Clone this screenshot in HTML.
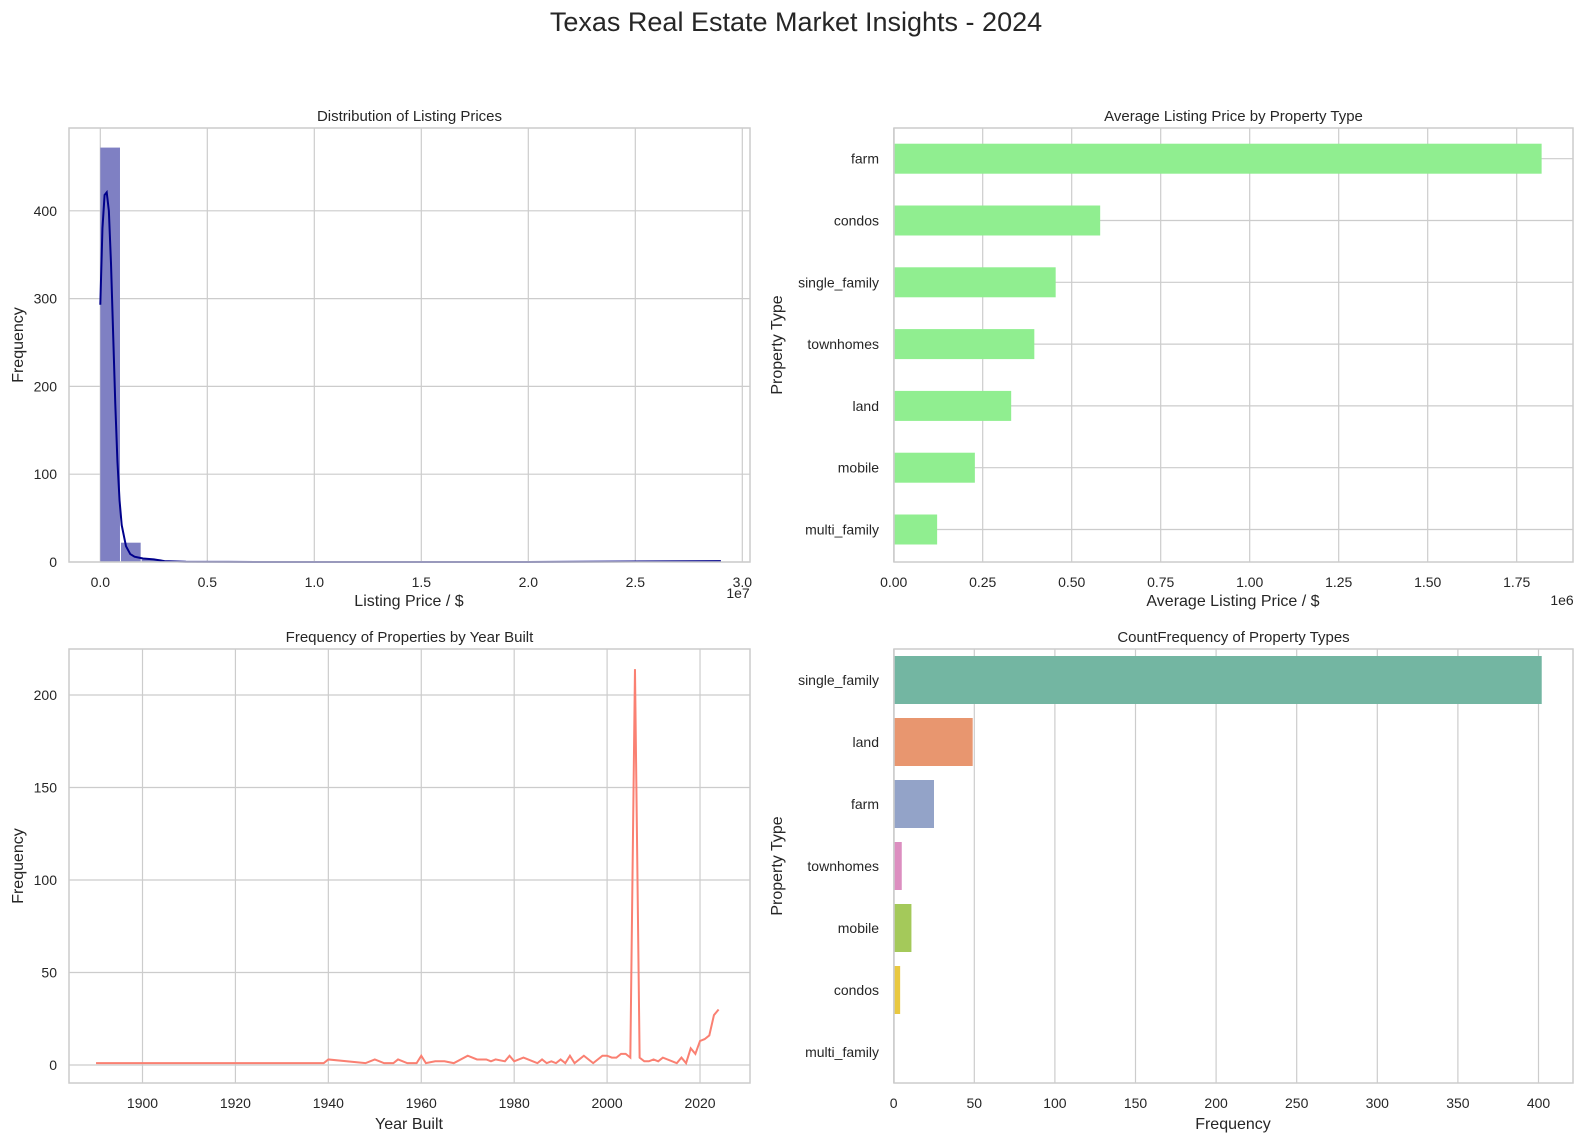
<!DOCTYPE html>
<html><head><meta charset="utf-8"><style>
html,body{margin:0;padding:0;background:#fff;overflow:hidden;width:100%;height:100%}
svg{display:block;width:100vw;height:100vh}
svg text{font-family:"Liberation Sans",sans-serif;fill:#262626}
</style></head><body>
<svg id="c" viewBox="0 0 1584 1141" preserveAspectRatio="none">
<text x="796" y="31" font-size="27" text-anchor="middle">Texas Real Estate Market Insights - 2024</text>
</svg>
<script>
// ---- data ----
const histCounts=[472,22,3,1,0,0,0,0,0,0,0,0,0,0,0,0,0,0,0,0,0,0,0,0,0,0,0,0,0,1];
const kdeX=[0,0.1,0.2,0.3,0.4,0.5,0.6,0.7,0.8,0.9,1.0,1.2,1.4,1.6,1.8,2.0,2.5,3.0,4.0,6,10,20,29];
const kdeY=[293,380,418,421,400,340,260,180,115,70,42,18,9,6,5,4,3,1,0.3,0.1,0,0,1];
const avgTypes=["farm","condos","single_family","townhomes","land","mobile","multi_family"];
const avgPrices=[1.82,0.58,0.455,0.395,0.33,0.228,0.122];
const years=[1890,1939,1940,1948,1950,1952,1954,1955,1957,1959,1960,1961,1963,1965,1967,1970,1972,1974,1975,1976,1978,1979,1980,1982,1984,1985,1986,1987,1988,1989,1990,1991,1992,1993,1995,1997,1999,2000,2001,2002,2003,2004,2005,2006,2007,2008,2009,2010,2011,2012,2015,2016,2017,2018,2019,2020,2021,2022,2023,2024];
const yearCounts=[1,1,3,1,3,1,1,3,1,1,5,1,2,2,1,5,3,3,2,3,2,5,2,4,2,1,3,1,2,1,3,1,5,1,5,1,5,5,4,4,6,6,4,214,4,2,2,3,2,4,1,4,1,9,6,13,14,16,27,30];
const cntTypes=["single_family","land","farm","townhomes","mobile","condos","multi_family"];
const cntValues=[402,49,25,5,11,4,0];
const cntColors=["#73b6a2","#e8966f","#93a3c8","#dc8ec0","#a4c95a","#e9c840","#d8c39a"];
const histTicks=[0,0.5,1.0,1.5,2.0,2.5,3.0];
const avgTicks=[0,0.25,0.5,0.75,1.0,1.25,1.5,1.75];
const yearTicks=[1900,1920,1940,1960,1980,2000,2020];
const cntTicks=[0,50,100,150,200,250,300,350,400];

const svg=document.getElementById('c');const NS='http://www.w3.org/2000/svg';
function el(t,a,p){const e=document.createElementNS(NS,t);for(const k in a)e.setAttribute(k,a[k]);(p||svg).appendChild(e);return e;}
function txt(x,y,s,size,anchor,p){const e=el('text',{x:x,y:y,'font-size':size,'text-anchor':anchor||'middle'},p);e.textContent=s;return e;}
function frame(x0,y0,x1,y1,name,title){const g=el('g',{});
 el('rect',{x:x0,y:y0,width:x1-x0,height:y1-y0,fill:'#fff'},g);const t=txt((x0+x1)/2,y0-7,title,15,'middle',g);return g;}
function border(g,x0,y0,x1,y1){el('rect',{x:x0,y:y0,width:x1-x0,height:y1-y0,fill:'none',stroke:'#cccccc','stroke-width':1.5},g);}
function grid(g,x1,y1,x2,y2){el('line',{x1:x1,y1:y1,x2:x2,y2:y2,stroke:'#cccccc','stroke-width':1.2},g);}
const TF=14, LF=16;

// ---- Panel 1: histogram ----
(function(){const X0=69,X1=750,Y0=128,Y1=562;const g=frame(X0,Y0,X1,Y1,'listing-price-histogram','Distribution of Listing Prices');
 const sx=v=>100.3+v*214, sy=v=>562-v*0.878;
 histTicks.forEach(t=>{grid(g,sx(t),Y0,sx(t),Y1);txt(sx(t),587,t.toFixed(1),TF,'middle',g);});
 [0,100,200,300,400].forEach(t=>{grid(g,X0,sy(t),X1,sy(t));txt(X0-12,sy(t)+5,t,TF,'end',g);});
 const bw=2.9/histCounts.length;
 histCounts.forEach((c,i)=>{if(!c)return;const r=el('rect',{x:sx(i*bw),y:sy(c),width:sx(bw)-sx(0)-1,height:sy(0)-sy(c),fill:'#7f80c3'},g);
  });
 const p=el('path',{d:kdeX.map((x,i)=>(i?'L':'M')+sx(x/10)+','+sy(kdeY[i])).join(''),fill:'none',stroke:'#00008b','stroke-width':2},g);
 
 border(g,X0,Y0,X1,Y1);
 txt(409,606,'Listing Price / $',LF,'middle',g);txt(738,598,'1e7',TF,'middle',g);
 const yl=txt(0,0,'Frequency',LF,'middle',g);yl.setAttribute('transform','translate(23,345) rotate(-90)');
})();

// ---- Panel 2: avg price ----
(function(){const X0=894,X1=1573,Y0=128,Y1=562;const g=frame(X0,Y0,X1,Y1,'avg-price-chart','Average Listing Price by Property Type');
 const sx=v=>893.7+v*356, cy=i=>158.7+i*61.8;
 avgTicks.forEach(t=>{grid(g,sx(t),Y0,sx(t),Y1);txt(sx(t),587,t.toFixed(2),TF,'middle',g);});
 avgTypes.forEach((n,i)=>{grid(g,X0,cy(i),X1,cy(i));txt(879,cy(i)+5,n,TF,'end',g);});
 avgPrices.forEach((v,i)=>{const r=el('rect',{x:sx(0),y:cy(i)-15,width:sx(v)-sx(0),height:30,fill:'#90ee90'},g);
  });
 border(g,X0,Y0,X1,Y1);
 txt(1233,606,'Average Listing Price / $',LF,'middle',g);txt(1562,605,'1e6',TF,'middle',g);
 const yl=txt(0,0,'Property Type',LF,'middle',g);yl.setAttribute('transform','translate(782,345) rotate(-90)');
})();

// ---- Panel 3: year built ----
(function(){const X0=69,X1=750,Y0=649,Y1=1083;const g=frame(X0,Y0,X1,Y1,'year-built-chart','Frequency of Properties by Year Built');
 const sx=v=>142.5+(v-1900)*4.646, sy=v=>1065-v*1.85;
 yearTicks.forEach(t=>{grid(g,sx(t),Y0,sx(t),Y1);txt(sx(t),1108,t,TF,'middle',g);});
 [0,50,100,150,200].forEach(t=>{grid(g,X0,sy(t),X1,sy(t));txt(X0-12,sy(t)+5,t,TF,'end',g);});
 const p=el('path',{d:years.map((y,i)=>(i?'L':'M')+sx(y)+','+sy(yearCounts[i])).join(''),fill:'none',stroke:'#fa8072','stroke-width':2},g);
 
 border(g,X0,Y0,X1,Y1);
 txt(409,1129,'Year Built',LF,'middle',g);
 const yl=txt(0,0,'Frequency',LF,'middle',g);yl.setAttribute('transform','translate(23,866) rotate(-90)');
})();

// ---- Panel 4: counts ----
(function(){const X0=894,X1=1573,Y0=649,Y1=1083;const g=frame(X0,Y0,X1,Y1,'type-count-chart','CountFrequency of Property Types');
 const sx=v=>893.7+v*1.612, cy=i=>680+i*62;
 cntTicks.forEach(t=>{grid(g,sx(t),Y0,sx(t),Y1);txt(sx(t),1108,t,TF,'middle',g);});
 cntTypes.forEach((n,i)=>{txt(879,cy(i)+5,n,TF,'end',g);});
 cntValues.forEach((v,i)=>{const r=el('rect',{x:sx(0),y:cy(i)-24,width:sx(v)-sx(0),height:48,fill:cntColors[i]},g);
  });
 border(g,X0,Y0,X1,Y1);
 txt(1233,1129,'Frequency',LF,'middle',g);
 const yl=txt(0,0,'Property Type',LF,'middle',g);yl.setAttribute('transform','translate(782,866) rotate(-90)');
})();
</script>
</body></html>
